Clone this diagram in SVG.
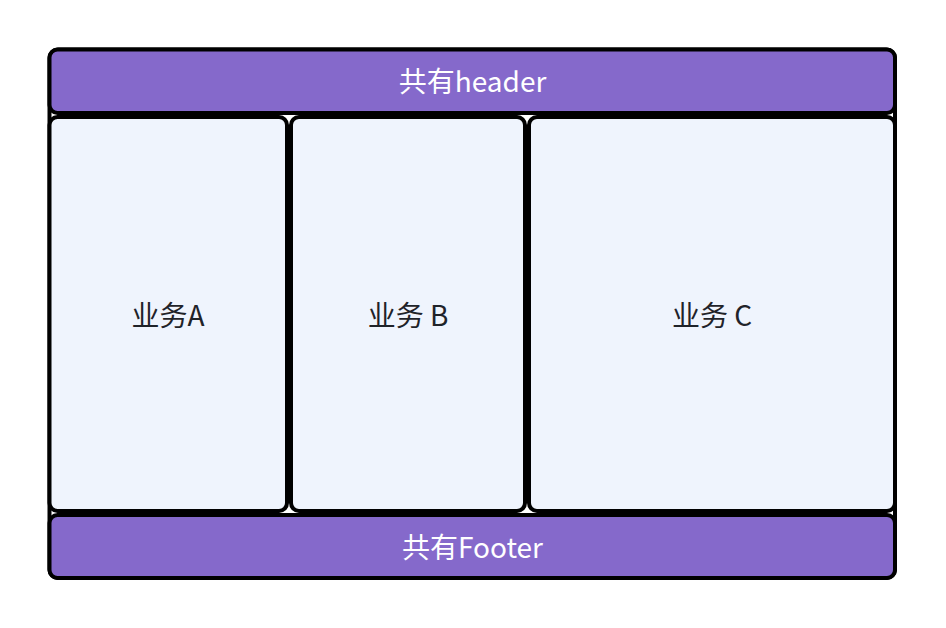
<svg xmlns="http://www.w3.org/2000/svg" width="946" height="628" viewBox="0 0 946 628">
<style>
  .box{stroke:#000;stroke-width:4}
  .bar{fill:#8569CB}
  .col{fill:#EFF4FD}
  .t{font-family:"Noto Sans CJK SC","Noto Sans",sans-serif;font-size:28px;text-anchor:middle;dominant-baseline:central}
  .tw{fill:#FFFFFF}
  .td{fill:#1F2329}
</style>
<rect width="946" height="628" fill="#FFFFFF"/>
<g id="container">
  <rect class="box" x="49.5" y="49.5" width="845.5" height="528.5" rx="9" fill="#FFFFFF"/>
</g>
<g id="header">
  <rect class="box bar" x="49.5" y="49.5" width="845.5" height="63.5" rx="8"/>
  <text class="t tw" x="472.5" y="80">共有header</text>
</g>
<g id="bizA">
  <rect class="box col" x="49.5" y="117" width="237.5" height="394" rx="8"/>
  <text class="t td" x="168" y="314">业务A</text>
</g>
<g id="bizB">
  <rect class="box col" x="291" y="117" width="234" height="394" rx="8"/>
  <text class="t td" x="408" y="314">业务 B</text>
</g>
<g id="bizC">
  <rect class="box col" x="529" y="117" width="366" height="394" rx="8"/>
  <text class="t td" x="712" y="314">业务 C</text>
</g>
<g id="footer">
  <rect class="box bar" x="49.5" y="515" width="845.5" height="63" rx="8"/>
  <text class="t tw" x="472.5" y="546">共有Footer</text>
</g>
<g id="connectors"></g>
</svg>
